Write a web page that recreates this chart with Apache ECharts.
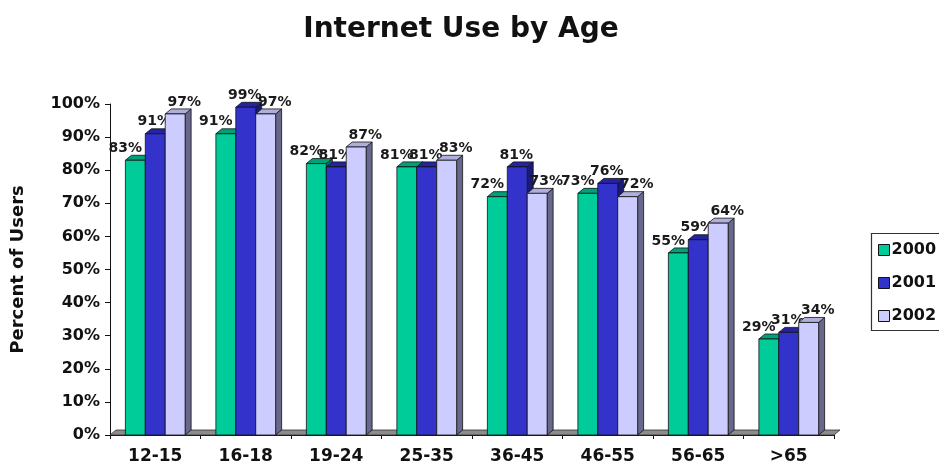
<!DOCTYPE html>
<html>
<head>
<meta charset="utf-8">
<title>Internet Use by Age</title>
<script src="https://cdn.jsdelivr.net/npm/echarts@6/dist/echarts.min.js"></script>
<style>
  html, body { margin: 0; padding: 0; background: #ffffff; }
  #chart { width: 939px; height: 468px; }
</style>
</head>
<body>
<div id="chart"></div>
<script>
// Age brackets along the category axis
const ageGroups = ['12-15', '16-18', '19-24', '25-35', '36-45', '46-55', '56-65', '>65'];
// Survey years (one series each)
const years = ['2000', '2001', '2002'];
// Share of each age bracket using the internet, in percent
const use2000 = [83, 91, 82, 81, 72, 73, 55, 29];
const use2001 = [91, 99, 81, 81, 81, 76, 59, 31];
const use2002 = [97, 97, 87, 83, 73, 72, 64, 34];
// Value axis range and step
const yMin = 0, yMax = 100, yStep = 10;

const FONT = '"DejaVu Sans", "Liberation Sans", sans-serif';

// Face colours for the pseudo-3D columns: front, top and right side
const faces = [
  { front: '#00CC99', top: '#00A078', side: '#007A5C' },
  { front: '#3333CC', top: '#2424A0', side: '#1A1A78' },
  { front: '#CCCCFF', top: '#AFAFDD', side: '#68688C' }
];
// Depth of the extruded columns (px)
const DEPTH_X = 6, DEPTH_Y = 5;
// Horizontal nudge of each series' value label relative to its column
const labelShift = [-10, -1, 9];

function columnRenderer(seriesIdx) {
  return function (params, api) {
    const cat = api.value(0);
    const val = api.value(1);
    const band = api.size([1, 0])[0];
    const bw = band * 0.22;
    const basePt = api.coord([cat, 0]);
    const topPt = api.coord([cat, val]);
    const x0 = basePt[0] - 1.5 * bw + seriesIdx * bw;
    const x1 = x0 + bw;
    const yb = basePt[1];
    const yt = topPt[1];
    const f = faces[seriesIdx];
    const stroke = { stroke: '#111', lineWidth: 0.8 };
    return {
      type: 'group',
      children: [
        {
          type: 'polygon',
          shape: { points: [[x1, yt], [x1 + DEPTH_X, yt - DEPTH_Y], [x1 + DEPTH_X, yb - DEPTH_Y], [x1, yb]] },
          style: Object.assign({ fill: f.side }, stroke)
        },
        {
          type: 'polygon',
          shape: { points: [[x0, yt], [x0 + DEPTH_X, yt - DEPTH_Y], [x1 + DEPTH_X, yt - DEPTH_Y], [x1, yt]] },
          style: Object.assign({ fill: f.top }, stroke)
        },
        {
          type: 'rect',
          shape: { x: x0, y: yt, width: bw, height: yb - yt },
          style: Object.assign({ fill: f.front }, stroke)
        },
        {
          type: 'text',
          z2: 10,
          style: {
            text: val + '%',
            x: (x0 + x1) / 2 + labelShift[seriesIdx],
            y: yt - 5,
            align: 'center',
            verticalAlign: 'bottom',
            fontFamily: FONT,
            fontWeight: 'bold',
            fontSize: 14,
            fill: '#1a1a1a'
          }
        }
      ]
    };
  };
}

// Grey floor slab under the columns
function floorRenderer(params, api) {
  const cs = params.coordSys;
  const yb = api.coord([0, 0])[1];
  const xl = cs.x, xr = cs.x + cs.width;
  return {
    type: 'polygon',
    shape: { points: [[xl, yb], [xr, yb], [xr + DEPTH_X, yb - DEPTH_Y], [xl + DEPTH_X, yb - DEPTH_Y]] },
    style: { fill: '#8c8c8c', stroke: '#333', lineWidth: 0.8 }
  };
}

const seriesValues = [use2000, use2001, use2002];

const chart = echarts.init(document.getElementById('chart'));
chart.setOption({
  animation: false,
  backgroundColor: '#ffffff',
  title: {
    text: 'Internet Use by Age',
    left: 456,
    textAlign: 'center',
    top: 11,
    textStyle: { fontFamily: FONT, fontWeight: 'bold', fontSize: 28, color: '#111' }
  },
  // Legend frame runs past the right edge of the canvas
  graphic: [{
    type: 'rect',
    silent: true,
    shape: { x: 871.5, y: 233.5, width: 110, height: 97 },
    style: { fill: 'none', stroke: '#333', lineWidth: 1.2 }
  }],
  legend: {
    data: years,
    orient: 'vertical',
    left: 871,
    top: 233,
    icon: 'rect',
    itemWidth: 11,
    itemHeight: 11,
    itemGap: 17,
    padding: [9, 4, 6, 7],
    borderWidth: 0,
    itemStyle: { borderColor: '#111', borderWidth: 1 },
    textStyle: { fontFamily: FONT, fontWeight: 'bold', fontSize: 16, color: '#111', lineHeight: 16, padding: [0, 0, 0, -3] }
  },
  grid: { left: 110, right: 105, top: 104, bottom: 33, containLabel: false },
  xAxis: {
    type: 'category',
    data: ageGroups,
    axisLine: { show: true, lineStyle: { color: '#111', width: 1 } },
    axisTick: { show: true, length: 4, lineStyle: { color: '#111' } },
    axisLabel: { fontFamily: FONT, fontWeight: 'bold', fontSize: 17, color: '#111', margin: 13 },
    splitLine: { show: false }
  },
  yAxis: {
    type: 'value',
    min: yMin,
    max: yMax,
    interval: yStep,
    name: 'Percent of Users',
    nameLocation: 'middle',
    nameRotate: 90,
    nameGap: 83,
    nameTextStyle: { fontFamily: FONT, fontWeight: 'bold', fontSize: 18, color: '#111' },
    axisLine: { show: true, lineStyle: { color: '#111', width: 1 } },
    axisTick: { show: true, length: 5, lineStyle: { color: '#111' } },
    axisLabel: { formatter: '{value}%', fontFamily: FONT, fontWeight: 'bold', fontSize: 16, color: '#111', margin: 10 },
    splitLine: { show: false }
  },
  series: [
    {
      type: 'custom',
      name: 'floor',
      z: 1,
      silent: true,
      renderItem: floorRenderer,
      data: [[0, 0]]
    }
  ].concat(years.map(function (yr, i) {
    return {
      type: 'custom',
      name: yr,
      z: 2 + i,
      itemStyle: { color: faces[i].front, borderColor: '#111', borderWidth: 1 },
      renderItem: columnRenderer(i),
      encode: { x: 0, y: 1 },
      data: seriesValues[i].map(function (v, k) { return [k, v]; })
    };
  }))
});
</script>
</body>
</html>
